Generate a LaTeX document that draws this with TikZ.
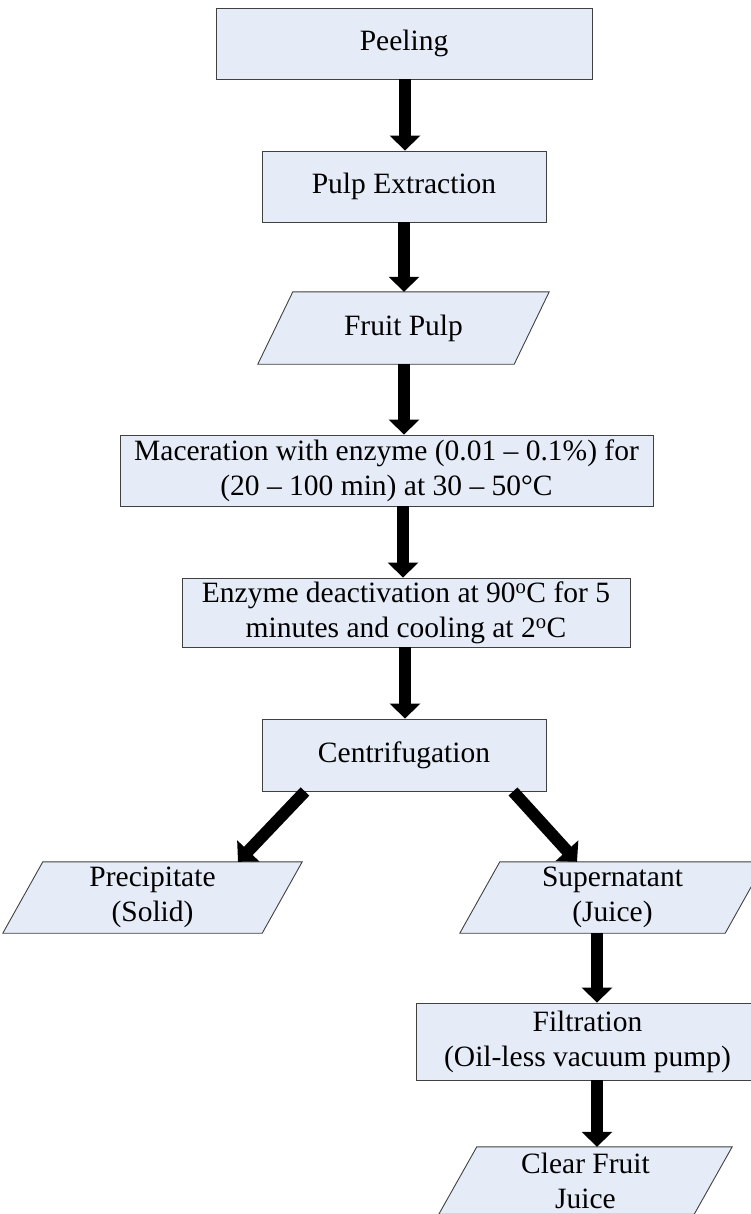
\documentclass[tikz,border=0pt]{standalone}
\usepackage{fontspec}
\setmainfont{Liberation Serif}
\usetikzlibrary{arrows.meta}
\pgfdeclarelayer{background}
\pgfsetlayers{background,main}
\definecolor{boxfill}{HTML}{E6ECF7}
\definecolor{boxedge}{HTML}{404040}
\tikzset{
  boxline/.style={draw=boxedge, line width=0.9bp, fill=boxfill},
  procbox/.style={boxline, rectangle, inner sep=2bp, align=center,
    font=\fontsize{29.5bp}{35bp}\selectfont},
  databox/.style={draw=none, fill=none, rectangle, inner sep=2bp, align=center,
    font=\fontsize{29.5bp}{35bp}\selectfont},
  flowarrow/.style={line width=12bp, line cap=butt, black,
    -{Triangle[width=30bp,length=15bp]}}
}
\newcommand\paraback[2]{%
  \begin{pgfonlayer}{background}
  \draw[boxline] ([xshift=#2]#1.north west) -- ([xshift=#2]#1.north east)
    -- ([xshift=-#2]#1.south east) -- ([xshift=-#2]#1.south west) -- cycle;
  \end{pgfonlayer}}
\begin{document}
\begin{tikzpicture}[x=1bp,y=-1bp]
\useasboundingbox (0,0) rectangle (751,1214);
\clip (0,0) rectangle (751,1214);

\node[procbox, minimum width=376bp, minimum height=71bp] (peel) at (404,43.5) {Peeling};
\node[procbox, minimum width=284bp, minimum height=71bp] (pulp) at (404,186.5) {Pulp Extraction};
\node[databox, minimum width=256bp, minimum height=72bp] (fruit) at (403.5,328) {Fruit Pulp};
\paraback{fruit}{17.5bp}
\node[procbox, minimum width=533bp, minimum height=71bp] (mac) at (386.5,470.5)
  {Maceration with enzyme (0.01 -- 0.1\%) for\\(20 -- 100 min) at 30 -- 50°C};
\node[procbox, minimum width=448bp, minimum height=69bp] (deact) at (406,612.5)
  {Enzyme deactivation at 90\textsuperscript{o}C for 5\\minutes and cooling at 2\textsuperscript{o}C};
\node[procbox, minimum width=284bp, minimum height=72bp] (cent) at (404,755) {Centrifugation};
\node[databox, minimum width=259bp, minimum height=71bp] (prec) at (152.5,897.5) {Precipitate\\(Solid)};
\paraback{prec}{20bp}
\node[databox, minimum width=265bp, minimum height=71bp] (sup) at (612.5,897.5) {Supernatant\\(Juice)};
\paraback{sup}{20bp}
\node[procbox, minimum width=343bp, minimum height=77bp] (filt) at (587.5,1041.5) {Filtration\\(Oil-less vacuum pump)};
\node[databox, minimum width=255bp, minimum height=67bp] (clear) at (585.5,1180.5) {Clear Fruit\\Juice};
\paraback{clear}{19bp}

\draw[flowarrow] ([xshift=1bp]peel.south) -- ([xshift=1bp]pulp.north);
\draw[flowarrow] (pulp.south) -- (pulp.south |- fruit.north);
\draw[flowarrow] (pulp.south |- fruit.south) -- (pulp.south |- mac.north);
\draw[flowarrow] ([xshift=-1bp]pulp.south |- mac.south) -- ([xshift=-1bp]pulp.south |- deact.north);
\draw[flowarrow] ([xshift=1bp]cent.north |- deact.south) -- ([xshift=1bp]cent.north);
\draw[flowarrow] ([xshift=-99bp]cent.south) -- ([xshift=85.5bp]prec.north);
\draw[flowarrow] ([xshift=109bp]cent.south) -- ([xshift=-35.5bp]sup.north);
\draw[flowarrow] ([xshift=9.5bp]filt.north |- sup.south) -- ([xshift=9.5bp]filt.north);
\draw[flowarrow] ([xshift=9.5bp]filt.south) -- ([xshift=9.5bp]filt.south |- clear.north);
\end{tikzpicture}
\end{document}
